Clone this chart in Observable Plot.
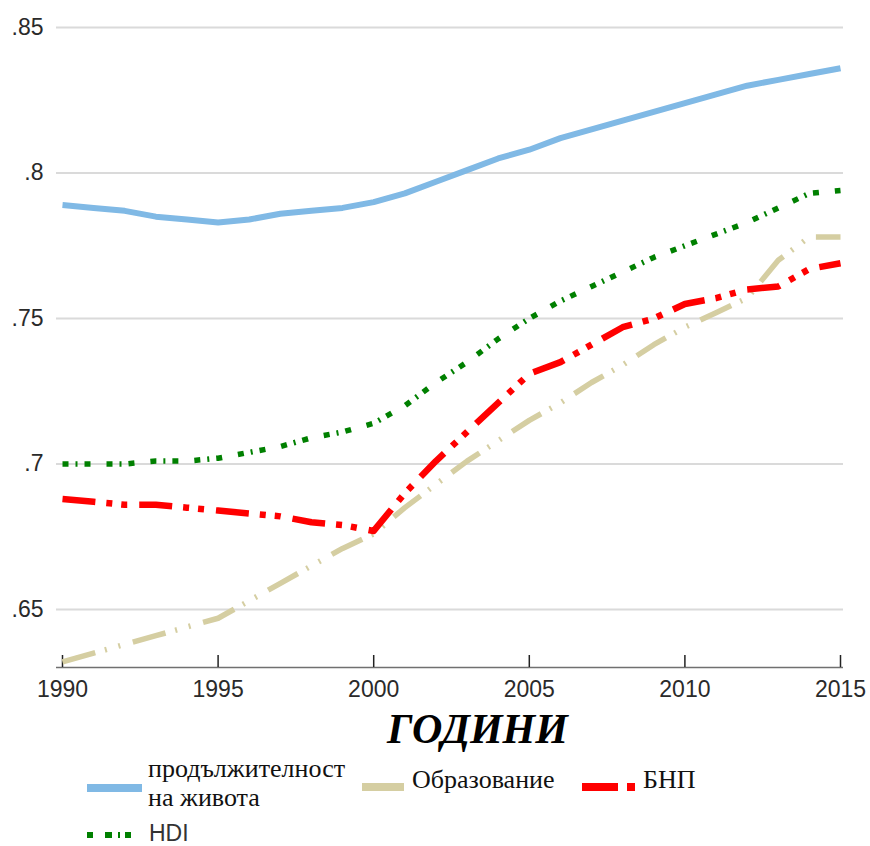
<!DOCTYPE html>
<html>
<head>
<meta charset="utf-8">
<script src="https://cdn.jsdelivr.net/npm/d3@7"></script>
<script src="https://cdn.jsdelivr.net/npm/@observablehq/plot@0.6"></script>
<style>
  body { margin: 0; background: #fff; }
  #wrap { width: 870px; }
  svg { display: block; }
</style>
</head>
<body>
<div id="wrap"></div>
<script>
const years = [1990,1991,1992,1993,1994,1995,1996,1997,1998,1999,2000,2001,2002,2003,2004,2005,2006,2007,2008,2009,2010,2011,2012,2013,2014,2015];
const lifeExp = [0.789,0.788,0.787,0.785,0.784,0.783,0.784,0.786,0.787,0.788,0.790,0.793,0.797,0.801,0.805,0.808,0.812,0.815,0.818,0.821,0.824,0.827,0.830,0.832,0.834,0.836];
const education = [0.632,0.635,0.638,0.641,0.644,0.647,0.653,0.659,0.665,0.671,0.676,0.685,0.693,0.701,0.708,0.715,0.721,0.728,0.734,0.741,0.747,0.752,0.757,0.770,0.778,0.778];
const gni = [0.688,0.687,0.686,0.686,0.685,0.684,0.683,0.682,0.680,0.679,0.677,0.690,0.701,0.711,0.721,0.731,0.735,0.741,0.747,0.750,0.755,0.757,0.760,0.761,0.767,0.769];
const hdi = [0.700,0.700,0.700,0.701,0.701,0.702,0.704,0.706,0.709,0.711,0.714,0.720,0.728,0.735,0.743,0.750,0.756,0.761,0.766,0.771,0.775,0.779,0.783,0.788,0.793,0.794];

const seriesNames = ["продължителност на живота", "Образование", "БНП", "HDI"];
const xTicks = [1990,1995,2000,2005,2010,2015];
const yTicks = [0.65,0.70,0.75,0.80,0.85];
const xTitle = "ГОДИНИ";

const styles = {
  "продължителност на живота": {stroke: "#80b9e5", width: 6, dash: null},
  "Образование": {stroke: "#d5cea2", width: 5.5, dash: "34,10,2,12,2,13"},
  "БНП": {stroke: "#ff0000", width: 6.5, dash: "33,11,6,9,6,12"},
  "HDI": {stroke: "#008000", width: 5.5, dash: "6,7,2,7,6,16"}
};

const seriesValues = [lifeExp, education, gni, hdi];
const tables = seriesNames.map((name, i) => years.map((y, j) => ({year: y, value: seriesValues[i][j], series: name})));

const W = 870, H = 752, mT = 10, mB = 85;
const frameH = H - mT - mB;
const fmtY = d => d3.format(".2~f")(d).replace(/^0\./, ".");

const drawOrder = [1, 2, 3, 0];

const chart = Plot.plot({
  width: W,
  height: H,
  marginLeft: 62,
  marginRight: 30,
  marginTop: mT,
  marginBottom: mB,
  style: {fontFamily: "Liberation Sans, Arial, sans-serif", background: "#fff", overflow: "visible"},
  x: {domain: [1990, 2015]},
  y: {domain: [0.63007, 0.85584]},
  marks: [
    Plot.ruleY(yTicks, {y: d => d, stroke: "#dadada", strokeWidth: 2, insetLeft: -6, insetRight: -3}),
    Plot.ruleY([0.63007], {stroke: "#707070", strokeWidth: 1.5, insetLeft: -6, insetRight: -3}),
    Plot.ruleX(xTicks, {x: d => d, stroke: "#222", strokeWidth: 1.5, insetTop: frameH - 12}),
    Plot.axisX({ticks: xTicks, tickFormat: d => String(d), tickSize: 0, tickPadding: 13, fontSize: 23, color: "#2a2a2a", label: null}),
    Plot.axisY({ticks: yTicks, tickFormat: fmtY, tickSize: 0, tickPadding: 19, fontSize: 23, color: "#2a2a2a", label: null}),
    ...drawOrder.map(i => {
      const s = styles[seriesNames[i]];
      return Plot.line(tables[i], {x: "year", y: "value", stroke: s.stroke, strokeWidth: s.width, strokeDasharray: s.dash, strokeLinecap: "butt", strokeLinejoin: "round"});
    }),
    Plot.text([xTitle], {frameAnchor: "bottom", dx: 26, dy: 62, text: d => d, fontSize: 42, fontWeight: "bold", fontStyle: "italic", fontFamily: "Liberation Serif, Times New Roman, serif", fill: "#000", lineAnchor: "middle"})
  ]
});
document.getElementById("wrap").appendChild(chart);

// Legend (below the SVG)
const legend = d3.select("#wrap").append("svg")
  .attr("width", W).attr("height", 94)
  .style("font-family", "Liberation Serif, Times New Roman, serif");

const items = [
  {name: seriesNames[0], lines: ["продължителност", "на живота"], sx: 87, sw: 55, sy: 36, tx: 148, ty: [25, 54], sans: false},
  {name: seriesNames[1], lines: ["Образование"], sx: 362, sw: 42, sy: 35, tx: 412, ty: [36], sans: false},
  {name: seriesNames[2], lines: ["БНП"], sx: 582, sw: 53, sy: 35, tx: 643, ty: [36], sans: false},
  {name: seriesNames[3], lines: ["HDI"], sx: 87, sw: 55, sy: 83, tx: 149, ty: [89], sans: true}
];
const legendDash = {
  "Образование": null,
  "БНП": "36,9,8,20",
  "HDI": "6,12,7,6,2,5,6,20",
  "продължителност на живота": null
};
items.forEach(it => {
  const s = styles[it.name];
  legend.append("line")
    .attr("x1", it.sx).attr("x2", it.sx + it.sw)
    .attr("y1", it.sy).attr("y2", it.sy)
    .attr("stroke", s.stroke).attr("stroke-width", it.name === "HDI" ? 6 : 8)
    .attr("stroke-dasharray", legendDash[it.name]);
  const t = legend.append("text")
    .attr("x", it.tx)
    .attr("font-size", it.sans ? 23 : 26)
    .attr("fill", it.sans ? "#333" : "#111")
    .style("font-family", it.sans ? "Liberation Sans, Arial, sans-serif" : null);
  it.lines.forEach((ln, k) => {
    t.append("tspan").attr("x", it.tx).attr("y", it.ty[k]).text(ln);
  });
});
</script>
</body>
</html>
